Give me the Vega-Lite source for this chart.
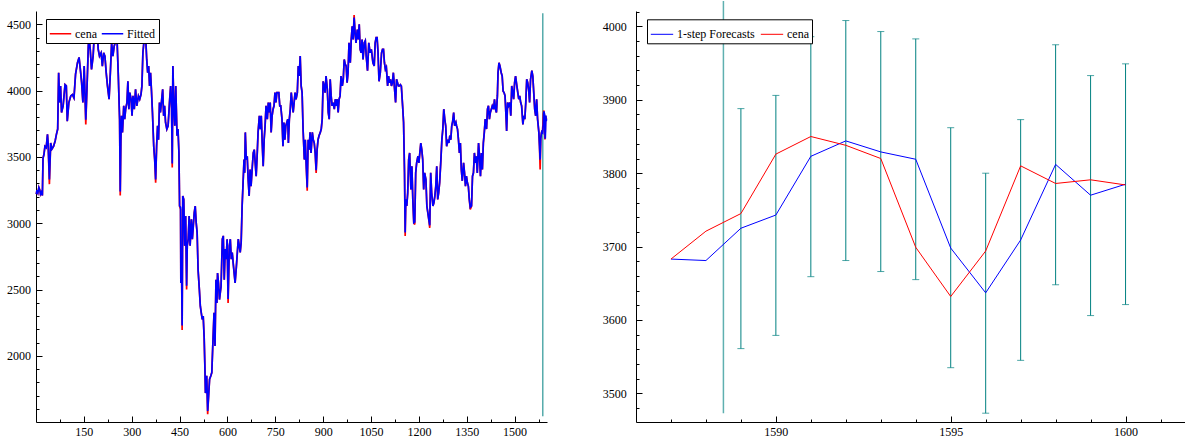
{
"$schema": "https://vega.github.io/schema/vega-lite/v6.json",
"background": "white",
"padding": {"left": 6, "top": 0, "right": 0, "bottom": 0},
"spacing": 52,
"config": {
  "view": {"stroke": null},
  "font": "Liberation Serif",
  "axis": {"domainColor": "black", "tickColor": "black", "labelColor": "black", "labelFont": "Liberation Serif", "labelFontSize": 12, "grid": false, "title": null, "labelFlush": false, "labelOverlap": false, "domainWidth": 1, "tickWidth": 1, "format": "d"}
},
"resolve": {"scale": {"x": "independent", "y": "independent", "color": "independent"}},
"datasets": {
"main": [
{"t":1,"c":3220,"f":3220},{"t":3,"c":3250,"f":3250},{"t":6,"c":3230,"f":3230},{"t":9,"c":3270,"f":3270},{"t":12,"c":3250,"f":3250},{"t":14,"c":3220,"f":3220},{"t":17,"c":3235,"f":3235},{"t":20,"c":3210,"f":3210},{"t":22,"c":3490,"f":3490},{"t":25,"c":3520,"f":3520},{"t":28,"c":3580,"f":3580},{"t":32,"c":3570,"f":3570},{"t":36,"c":3670,"f":3670},{"t":38,"c":3600,"f":3600},{"t":42,"c":3295,"f":3330},{"t":46,"c":3605,"f":3605},{"t":50,"c":3560,"f":3560},{"t":55,"c":3580,"f":3580},{"t":60,"c":3620,"f":3620},{"t":64,"c":3670,"f":3670},{"t":68,"c":3710,"f":3710},{"t":71,"c":4135,"f":4135},{"t":74,"c":3910,"f":3910},{"t":77,"c":4035,"f":4035},{"t":80,"c":3835,"f":3835},{"t":85,"c":3885,"f":3885},{"t":91,"c":4045,"f":4045},{"t":95,"c":4035,"f":4035},{"t":98,"c":3770,"f":3770},{"t":103,"c":3910,"f":3910},{"t":109,"c":3960,"f":3960},{"t":114,"c":3970,"f":3970},{"t":119,"c":3945,"f":3945},{"t":124,"c":4125,"f":4125},{"t":130,"c":4210,"f":4210},{"t":135,"c":4250,"f":4250},{"t":140,"c":4135,"f":4135},{"t":143,"c":4060,"f":4060},{"t":147,"c":3910,"f":3910},{"t":151,"c":4185,"f":4185},{"t":156,"c":3745,"f":3780},{"t":160,"c":4035,"f":4035},{"t":164,"c":4335,"f":4335},{"t":166,"c":4410,"f":4410},{"t":170,"c":4310,"f":4310},{"t":174,"c":4160,"f":4160},{"t":179,"c":4260,"f":4260},{"t":183,"c":4435,"f":4435},{"t":187,"c":4485,"f":4485},{"t":191,"c":4500,"f":4490},{"t":195,"c":4310,"f":4310},{"t":199,"c":4260,"f":4260},{"t":204,"c":4285,"f":4285},{"t":208,"c":4185,"f":4185},{"t":212,"c":4285,"f":4285},{"t":216,"c":4260,"f":4260},{"t":220,"c":4135,"f":4135},{"t":224,"c":4035,"f":4035},{"t":229,"c":3935,"f":3935},{"t":233,"c":4135,"f":4135},{"t":237,"c":4360,"f":4360},{"t":241,"c":4260,"f":4260},{"t":245,"c":4335,"f":4335},{"t":250,"c":4375,"f":4375},{"t":254,"c":4385,"f":4385},{"t":258,"c":4110,"f":4110},{"t":262,"c":3785,"f":3785},{"t":264,"c":3210,"f":3240},{"t":266,"c":3630,"f":3630},{"t":268,"c":3810,"f":3810},{"t":271,"c":3685,"f":3685},{"t":275,"c":3885,"f":3885},{"t":278,"c":3785,"f":3785},{"t":281,"c":3860,"f":3860},{"t":285,"c":3910,"f":3910},{"t":288,"c":4070,"f":4070},{"t":291,"c":3860,"f":3860},{"t":294,"c":3985,"f":3985},{"t":298,"c":3935,"f":3935},{"t":301,"c":3810,"f":3810},{"t":304,"c":3960,"f":3960},{"t":308,"c":3860,"f":3860},{"t":312,"c":4010,"f":4010},{"t":316,"c":3885,"f":3885},{"t":321,"c":3960,"f":3960},{"t":325,"c":3935,"f":3935},{"t":329,"c":3970,"f":3970},{"t":332,"c":4035,"f":4035},{"t":335,"c":4285,"f":4285},{"t":338,"c":4360,"f":4360},{"t":341,"c":4450,"f":4435},{"t":344,"c":4385,"f":4385},{"t":347,"c":4235,"f":4235},{"t":350,"c":4135,"f":4135},{"t":353,"c":4185,"f":4185},{"t":356,"c":4035,"f":4035},{"t":359,"c":4135,"f":4135},{"t":362,"c":3995,"f":3995},{"t":365,"c":3835,"f":3835},{"t":369,"c":3580,"f":3580},{"t":372,"c":3480,"f":3480},{"t":375,"c":3305,"f":3330},{"t":378,"c":3580,"f":3580},{"t":381,"c":3735,"f":3735},{"t":384,"c":3630,"f":3630},{"t":387,"c":3910,"f":3910},{"t":390,"c":3835,"f":3835},{"t":394,"c":3935,"f":3935},{"t":397,"c":4010,"f":4010},{"t":400,"c":3810,"f":3810},{"t":403,"c":3885,"f":3885},{"t":406,"c":3760,"f":3760},{"t":410,"c":3710,"f":3710},{"t":414,"c":3735,"f":3735},{"t":419,"c":3935,"f":3935},{"t":422,"c":4035,"f":4035},{"t":425,"c":3860,"f":3860},{"t":427,"c":3420,"f":3450},{"t":429,"c":4185,"f":4185},{"t":432,"c":3885,"f":3885},{"t":435,"c":3735,"f":3735},{"t":438,"c":4035,"f":4035},{"t":442,"c":3660,"f":3660},{"t":445,"c":3710,"f":3710},{"t":448,"c":3530,"f":3530},{"t":450,"c":3130,"f":3130},{"t":453,"c":3105,"f":3120},{"t":454,"c":2550,"f":2550},{"t":456,"c":2755,"f":2755},{"t":458,"c":2195,"f":2230},{"t":460,"c":3205,"f":3205},{"t":463,"c":3180,"f":3180},{"t":466,"c":2830,"f":2830},{"t":469,"c":3055,"f":3055},{"t":472,"c":2500,"f":2530},{"t":474,"c":2830,"f":2830},{"t":477,"c":2880,"f":2880},{"t":480,"c":3055,"f":3055},{"t":483,"c":2830,"f":2830},{"t":487,"c":3030,"f":3030},{"t":490,"c":2880,"f":2880},{"t":493,"c":2980,"f":2980},{"t":496,"c":3080,"f":3080},{"t":499,"c":3130,"f":3130},{"t":502,"c":3005,"f":3005},{"t":505,"c":2930,"f":2930},{"t":508,"c":2650,"f":2650},{"t":512,"c":2500,"f":2500},{"t":515,"c":2375,"f":2375},{"t":518,"c":2325,"f":2325},{"t":521,"c":2275,"f":2275},{"t":524,"c":2300,"f":2300},{"t":527,"c":2140,"f":2140},{"t":529,"c":1950,"f":1950},{"t":531,"c":1720,"f":1720},{"t":535,"c":1850,"f":1850},{"t":538,"c":1560,"f":1585},{"t":541,"c":1700,"f":1700},{"t":544,"c":1825,"f":1825},{"t":548,"c":1850,"f":1850},{"t":551,"c":1875,"f":1875},{"t":554,"c":2075,"f":2075},{"t":558,"c":2325,"f":2325},{"t":561,"c":2075,"f":2075},{"t":564,"c":2575,"f":2575},{"t":567,"c":2400,"f":2400},{"t":569,"c":2625,"f":2625},{"t":572,"c":2550,"f":2550},{"t":575,"c":2425,"f":2425},{"t":580,"c":2525,"f":2525},{"t":584,"c":2880,"f":2880},{"t":587,"c":2905,"f":2905},{"t":590,"c":2575,"f":2575},{"t":593,"c":2805,"f":2805},{"t":596,"c":2730,"f":2730},{"t":599,"c":2880,"f":2880},{"t":602,"c":2400,"f":2430},{"t":606,"c":2830,"f":2830},{"t":609,"c":2880,"f":2880},{"t":612,"c":2730,"f":2730},{"t":615,"c":2780,"f":2780},{"t":618,"c":2700,"f":2700},{"t":621,"c":2625,"f":2625},{"t":624,"c":2550,"f":2550},{"t":628,"c":2675,"f":2675},{"t":631,"c":2780,"f":2780},{"t":634,"c":2880,"f":2880},{"t":637,"c":2830,"f":2830},{"t":640,"c":2780,"f":2780},{"t":643,"c":2855,"f":2855},{"t":646,"c":3130,"f":3130},{"t":649,"c":3305,"f":3305},{"t":652,"c":3480,"f":3480},{"t":654,"c":3380,"f":3380},{"t":656,"c":3685,"f":3685},{"t":659,"c":3480,"f":3480},{"t":662,"c":3505,"f":3505},{"t":665,"c":3330,"f":3330},{"t":668,"c":3205,"f":3205},{"t":671,"c":3405,"f":3405},{"t":674,"c":3280,"f":3280},{"t":678,"c":3430,"f":3430},{"t":681,"c":3530,"f":3530},{"t":684,"c":3555,"f":3555},{"t":687,"c":3455,"f":3455},{"t":690,"c":3355,"f":3355},{"t":693,"c":3505,"f":3505},{"t":696,"c":3685,"f":3685},{"t":700,"c":3810,"f":3810},{"t":703,"c":3710,"f":3710},{"t":706,"c":3810,"f":3810},{"t":709,"c":3605,"f":3605},{"t":712,"c":3430,"f":3430},{"t":715,"c":3630,"f":3630},{"t":718,"c":3735,"f":3735},{"t":721,"c":3885,"f":3885},{"t":725,"c":3785,"f":3785},{"t":728,"c":3910,"f":3910},{"t":731,"c":3835,"f":3835},{"t":734,"c":3910,"f":3910},{"t":737,"c":3685,"f":3685},{"t":740,"c":3810,"f":3810},{"t":743,"c":3860,"f":3860},{"t":746,"c":3885,"f":3885},{"t":749,"c":3985,"f":3985},{"t":752,"c":3910,"f":3910},{"t":755,"c":3985,"f":3985},{"t":758,"c":3985,"f":3985},{"t":761,"c":3985,"f":3985},{"t":764,"c":3885,"f":3885},{"t":767,"c":3885,"f":3885},{"t":771,"c":3785,"f":3785},{"t":774,"c":3580,"f":3580},{"t":777,"c":3760,"f":3760},{"t":780,"c":3630,"f":3630},{"t":783,"c":3735,"f":3735},{"t":786,"c":3760,"f":3760},{"t":789,"c":3785,"f":3785},{"t":791,"c":3605,"f":3605},{"t":794,"c":3785,"f":3785},{"t":797,"c":3860,"f":3860},{"t":800,"c":3985,"f":3985},{"t":803,"c":3910,"f":3910},{"t":806,"c":3835,"f":3835},{"t":809,"c":3910,"f":3910},{"t":812,"c":3985,"f":3985},{"t":815,"c":3935,"f":3935},{"t":819,"c":3985,"f":3985},{"t":822,"c":4185,"f":4185},{"t":825,"c":4110,"f":4110},{"t":828,"c":4260,"f":4260},{"t":831,"c":4035,"f":4035},{"t":834,"c":3985,"f":3985},{"t":837,"c":3710,"f":3710},{"t":841,"c":3480,"f":3480},{"t":844,"c":3630,"f":3630},{"t":847,"c":3430,"f":3430},{"t":850,"c":3245,"f":3270},{"t":853,"c":3630,"f":3630},{"t":856,"c":3555,"f":3555},{"t":859,"c":3685,"f":3685},{"t":862,"c":3530,"f":3530},{"t":866,"c":3685,"f":3685},{"t":869,"c":3630,"f":3630},{"t":872,"c":3605,"f":3605},{"t":875,"c":3530,"f":3530},{"t":878,"c":3380,"f":3400},{"t":881,"c":3555,"f":3555},{"t":884,"c":3630,"f":3630},{"t":887,"c":3660,"f":3660},{"t":891,"c":3685,"f":3685},{"t":894,"c":3710,"f":3710},{"t":897,"c":3785,"f":3785},{"t":900,"c":4070,"f":4070},{"t":903,"c":4035,"f":4035},{"t":906,"c":3985,"f":3985},{"t":909,"c":4110,"f":4110},{"t":913,"c":4010,"f":4010},{"t":916,"c":3835,"f":3835},{"t":919,"c":3785,"f":3785},{"t":922,"c":4085,"f":4085},{"t":925,"c":3960,"f":3960},{"t":928,"c":3885,"f":3885},{"t":931,"c":3910,"f":3910},{"t":935,"c":3860,"f":3860},{"t":938,"c":3935,"f":3935},{"t":941,"c":3885,"f":3885},{"t":944,"c":3935,"f":3935},{"t":947,"c":3835,"f":3835},{"t":950,"c":3935,"f":3935},{"t":953,"c":3960,"f":3960},{"t":956,"c":4110,"f":4110},{"t":960,"c":4035,"f":4035},{"t":963,"c":4085,"f":4085},{"t":966,"c":4235,"f":4235},{"t":969,"c":4200,"f":4200},{"t":972,"c":4185,"f":4185},{"t":975,"c":4060,"f":4060},{"t":978,"c":4135,"f":4135},{"t":981,"c":4360,"f":4360},{"t":985,"c":4210,"f":4210},{"t":988,"c":4385,"f":4385},{"t":991,"c":4485,"f":4485},{"t":994,"c":4385,"f":4385},{"t":997,"c":4570,"f":4550},{"t":1000,"c":4435,"f":4435},{"t":1003,"c":4360,"f":4360},{"t":1007,"c":4460,"f":4460},{"t":1010,"c":4385,"f":4385},{"t":1013,"c":4500,"f":4500},{"t":1016,"c":4310,"f":4310},{"t":1019,"c":4285,"f":4285},{"t":1022,"c":4385,"f":4385},{"t":1025,"c":4235,"f":4235},{"t":1029,"c":4360,"f":4360},{"t":1032,"c":4375,"f":4375},{"t":1035,"c":4260,"f":4260},{"t":1039,"c":4150,"f":4150},{"t":1043,"c":4360,"f":4360},{"t":1047,"c":4285,"f":4285},{"t":1051,"c":4310,"f":4310},{"t":1056,"c":4210,"f":4210},{"t":1060,"c":4185,"f":4185},{"t":1063,"c":4360,"f":4360},{"t":1066,"c":4400,"f":4400},{"t":1069,"c":4400,"f":4400},{"t":1072,"c":4285,"f":4285},{"t":1075,"c":4070,"f":4070},{"t":1079,"c":4135,"f":4135},{"t":1083,"c":4285,"f":4285},{"t":1086,"c":4310,"f":4310},{"t":1089,"c":4310,"f":4310},{"t":1092,"c":4210,"f":4210},{"t":1095,"c":4160,"f":4160},{"t":1098,"c":4175,"f":4175},{"t":1102,"c":4035,"f":4035},{"t":1105,"c":4110,"f":4110},{"t":1108,"c":4060,"f":4060},{"t":1111,"c":4085,"f":4085},{"t":1114,"c":4035,"f":4035},{"t":1117,"c":4060,"f":4060},{"t":1120,"c":4135,"f":4135},{"t":1123,"c":4035,"f":4035},{"t":1127,"c":3910,"f":3910},{"t":1130,"c":4085,"f":4085},{"t":1133,"c":4060,"f":4060},{"t":1136,"c":4035,"f":4035},{"t":1139,"c":4035,"f":4035},{"t":1142,"c":4045,"f":4045},{"t":1145,"c":4035,"f":4035},{"t":1149,"c":3885,"f":3885},{"t":1152,"c":3760,"f":3760},{"t":1155,"c":3380,"f":3380},{"t":1157,"c":2905,"f":2930},{"t":1159,"c":3180,"f":3180},{"t":1162,"c":3130,"f":3130},{"t":1165,"c":3230,"f":3230},{"t":1168,"c":3480,"f":3480},{"t":1171,"c":3530,"f":3530},{"t":1175,"c":3255,"f":3255},{"t":1178,"c":3430,"f":3430},{"t":1181,"c":3180,"f":3180},{"t":1184,"c":3005,"f":3005},{"t":1187,"c":2990,"f":3010},{"t":1190,"c":3380,"f":3380},{"t":1193,"c":3455,"f":3455},{"t":1197,"c":3505,"f":3505},{"t":1200,"c":3455,"f":3455},{"t":1203,"c":3530,"f":3530},{"t":1206,"c":3605,"f":3605},{"t":1209,"c":3555,"f":3555},{"t":1212,"c":3480,"f":3480},{"t":1215,"c":3255,"f":3255},{"t":1218,"c":3380,"f":3380},{"t":1222,"c":3330,"f":3330},{"t":1225,"c":3130,"f":3130},{"t":1228,"c":3080,"f":3080},{"t":1231,"c":3030,"f":3030},{"t":1234,"c":2965,"f":2985},{"t":1237,"c":3380,"f":3380},{"t":1240,"c":3230,"f":3230},{"t":1244,"c":3130,"f":3130},{"t":1247,"c":3155,"f":3155},{"t":1250,"c":3205,"f":3205},{"t":1253,"c":3280,"f":3280},{"t":1256,"c":3430,"f":3430},{"t":1259,"c":3180,"f":3180},{"t":1262,"c":3230,"f":3230},{"t":1265,"c":3305,"f":3305},{"t":1269,"c":3480,"f":3480},{"t":1272,"c":3630,"f":3630},{"t":1275,"c":3710,"f":3710},{"t":1278,"c":3860,"f":3860},{"t":1281,"c":3785,"f":3785},{"t":1284,"c":3735,"f":3735},{"t":1287,"c":3580,"f":3580},{"t":1291,"c":3630,"f":3630},{"t":1294,"c":3605,"f":3605},{"t":1297,"c":3660,"f":3660},{"t":1300,"c":3630,"f":3630},{"t":1303,"c":3735,"f":3735},{"t":1306,"c":3770,"f":3770},{"t":1309,"c":3835,"f":3835},{"t":1312,"c":3735,"f":3735},{"t":1316,"c":3760,"f":3760},{"t":1318,"c":3735,"f":3735},{"t":1321,"c":3710,"f":3710},{"t":1324,"c":3630,"f":3630},{"t":1327,"c":3530,"f":3530},{"t":1330,"c":3605,"f":3605},{"t":1333,"c":3405,"f":3405},{"t":1336,"c":3320,"f":3320},{"t":1340,"c":3455,"f":3455},{"t":1343,"c":3380,"f":3380},{"t":1346,"c":3280,"f":3280},{"t":1349,"c":3355,"f":3355},{"t":1352,"c":3305,"f":3305},{"t":1355,"c":3280,"f":3280},{"t":1358,"c":3180,"f":3180},{"t":1361,"c":3105,"f":3120},{"t":1365,"c":3130,"f":3130},{"t":1368,"c":3355,"f":3355},{"t":1371,"c":3380,"f":3380},{"t":1374,"c":3530,"f":3530},{"t":1377,"c":3455,"f":3455},{"t":1380,"c":3505,"f":3505},{"t":1383,"c":3380,"f":3380},{"t":1387,"c":3605,"f":3605},{"t":1390,"c":3505,"f":3505},{"t":1393,"c":3355,"f":3355},{"t":1396,"c":3530,"f":3530},{"t":1399,"c":3405,"f":3405},{"t":1402,"c":3605,"f":3605},{"t":1405,"c":3685,"f":3685},{"t":1408,"c":3785,"f":3785},{"t":1412,"c":3710,"f":3710},{"t":1415,"c":3860,"f":3860},{"t":1418,"c":3885,"f":3885},{"t":1421,"c":3785,"f":3785},{"t":1424,"c":3835,"f":3835},{"t":1427,"c":3860,"f":3860},{"t":1430,"c":3885,"f":3885},{"t":1434,"c":3860,"f":3860},{"t":1437,"c":3935,"f":3935},{"t":1440,"c":3860,"f":3860},{"t":1443,"c":3835,"f":3835},{"t":1446,"c":3960,"f":3960},{"t":1448,"c":4135,"f":4135},{"t":1451,"c":4210,"f":4210},{"t":1454,"c":4185,"f":4185},{"t":1458,"c":4135,"f":4135},{"t":1461,"c":4110,"f":4110},{"t":1464,"c":3995,"f":3995},{"t":1467,"c":3985,"f":3985},{"t":1470,"c":3960,"f":3960},{"t":1473,"c":3810,"f":3810},{"t":1475,"c":3695,"f":3695},{"t":1478,"c":3910,"f":3910},{"t":1481,"c":3885,"f":3885},{"t":1485,"c":3910,"f":3910},{"t":1488,"c":3810,"f":3810},{"t":1491,"c":4035,"f":4035},{"t":1494,"c":3985,"f":3985},{"t":1497,"c":3935,"f":3935},{"t":1500,"c":4060,"f":4060},{"t":1503,"c":4110,"f":4110},{"t":1507,"c":4035,"f":4035},{"t":1510,"c":3985,"f":3985},{"t":1513,"c":3935,"f":3935},{"t":1516,"c":3960,"f":3960},{"t":1519,"c":3910,"f":3910},{"t":1522,"c":3885,"f":3885},{"t":1526,"c":3745,"f":3745},{"t":1529,"c":3810,"f":3810},{"t":1532,"c":3785,"f":3785},{"t":1535,"c":3910,"f":3910},{"t":1538,"c":4085,"f":4085},{"t":1541,"c":4060,"f":4060},{"t":1544,"c":4010,"f":4010},{"t":1547,"c":3910,"f":3910},{"t":1550,"c":4085,"f":4085},{"t":1554,"c":4150,"f":4150},{"t":1557,"c":4110,"f":4110},{"t":1560,"c":3985,"f":3985},{"t":1563,"c":3860,"f":3860},{"t":1566,"c":3810,"f":3810},{"t":1569,"c":3935,"f":3935},{"t":1572,"c":3785,"f":3785},{"t":1576,"c":3685,"f":3685},{"t":1578,"c":3580,"f":3580},{"t":1580,"c":3405,"f":3480},{"t":1582,"c":3640,"f":3640},{"t":1584,"c":3680,"f":3680},{"t":1586,"c":3700,"f":3700},{"t":1587,"c":3683,"f":3683},{"t":1588,"c":3721,"f":3681},{"t":1589,"c":3745,"f":3725},{"t":1590,"c":3826,"f":3743},{"t":1591,"c":3850,"f":3823},{"t":1592,"c":3838,"f":3844},{"t":1593,"c":3820,"f":3829},{"t":1594,"c":3699,"f":3819},{"t":1595,"c":3632,"f":3698},{"t":1596,"c":3694,"f":3637},{"t":1597,"c":3810,"f":3709},{"t":1598,"c":3786,"f":3812},{"t":1599,"c":3791,"f":3770},{"t":1600,"c":3784,"f":3785}
],
"fc": [
{"t":1587,"c":3683,"f":3683},{"t":1588,"c":3721,"f":3681},{"t":1589,"c":3745,"f":3725},{"t":1590,"c":3826,"f":3743},{"t":1591,"c":3850,"f":3823},{"t":1592,"c":3838,"f":3844},{"t":1593,"c":3820,"f":3829},{"t":1594,"c":3699,"f":3819},{"t":1595,"c":3632,"f":3698},{"t":1596,"c":3694,"f":3637},{"t":1597,"c":3810,"f":3709},{"t":1598,"c":3786,"f":3812},{"t":1599,"c":3791,"f":3770},{"t":1600,"c":3784,"f":3785}
],
"bars": [
{"t":1589,"lo":3561,"hi":3888},{"t":1590,"lo":3579,"hi":3906},{"t":1591,"lo":3659,"hi":3986},{"t":1592,"lo":3681,"hi":4008},{"t":1593,"lo":3666,"hi":3993},{"t":1594,"lo":3655,"hi":3983},{"t":1595,"lo":3535,"hi":3862},{"t":1596,"lo":3473,"hi":3800},{"t":1597,"lo":3545,"hi":3873},{"t":1598,"lo":3648,"hi":3975},{"t":1599,"lo":3606,"hi":3933},{"t":1600,"lo":3621,"hi":3949}
],
"vl": [{"t":1588.5,"y1":1545,"y2":4583}],
"vr": [{"t":1588.5,"y1":3473,"y2":4034.6}]
},
"hconcat": [
{
  "width": 511, "height": 411,
  "resolve": {"axis": {"x": "independent", "y": "independent"}},
  "layer": [
    {"data": {"name": "vl"}, "mark": {"type": "rule", "color": "#008080", "strokeWidth": 1},
     "encoding": {
       "x": {"field": "t", "type": "quantitative", "scale": {"domain": [0, 1601.5], "nice": false, "zero": false},
             "axis": {"orient": "bottom", "values": [150,300,450,600,750,900,1050,1200,1350,1500], "tickSize": -6, "labelPadding": 10.5}},
       "y": {"field": "y1", "type": "quantitative", "scale": {"domain": [1502, 4600], "nice": false, "zero": false},
             "axis": {"orient": "left", "values": [2000,2500,3000,3500,4000,4500], "tickSize": -6, "labelPadding": 11.6}},
       "y2": {"field": "y2"}
     }},
    {"data": {"name": "main"}, "mark": {"type": "line", "strokeWidth": 1.7},
     "encoding": {
       "x": {"field": "t", "type": "quantitative",
             "axis": {"orient": "bottom", "values": [75,225,375,525,675,825,975,1125,1275,1425,1575], "tickSize": -3, "labels": false, "domain": false}},
       "y": {"field": "c", "type": "quantitative",
             "axis": {"orient": "left", "values": [1600,1700,1800,1900,2100,2200,2300,2400,2600,2700,2800,2900,3100,3200,3300,3400,3600,3700,3800,3900,4100,4200,4300,4400], "tickSize": -3, "labels": false, "domain": false}},
       "color": {"datum": "cena", "type": "nominal",
                 "scale": {"domain": ["cena", "Fitted"], "range": ["#ff0000", "#0000ff"]},
                 "legend": {"orient": "none", "legendX": 10, "legendY": 8, "direction": "horizontal", "columns": 2, "title": null,
                            "strokeColor": "black", "fillColor": "white", "padding": 3, "symbolType": "stroke", "symbolSize": 460,
                            "symbolStrokeWidth": 1.5, "labelFont": "Liberation Serif", "labelFontSize": 12, "labelColor": "black",
                            "labelOffset": 3, "columnPadding": 1, "cornerRadius": 0}}
     }},
    {"data": {"name": "main"}, "mark": {"type": "line", "strokeWidth": 1.7},
     "encoding": {
       "x": {"field": "t", "type": "quantitative", "axis": null},
       "y": {"field": "f", "type": "quantitative", "axis": null},
       "color": {"datum": "Fitted", "type": "nominal"}
     }}
  ]
},
{
  "width": 549, "height": 411,
  "resolve": {"axis": {"x": "independent", "y": "independent"}},
  "layer": [
    {"data": {"name": "bars"}, "mark": {"type": "rule", "color": "#008080", "strokeWidth": 1},
     "encoding": {
       "x": {"field": "t", "type": "quantitative", "scale": {"domain": [1586, 1601.7], "nice": false, "zero": false},
             "axis": {"orient": "bottom", "values": [1590, 1595, 1600], "tickSize": -6, "labelPadding": 10.5}},
       "y": {"field": "lo", "type": "quantitative", "scale": {"domain": [3461, 4021], "nice": false, "zero": false},
             "axis": {"orient": "left", "values": [3500,3600,3700,3800,3900,4000], "tickSize": -6, "labelPadding": 15.7}},
       "y2": {"field": "hi"}
     }},
    {"data": {"name": "bars"}, "mark": {"type": "tick", "color": "#008080", "orient": "horizontal", "size": 7, "thickness": 1},
     "encoding": {
       "x": {"field": "t", "type": "quantitative",
             "axis": {"orient": "bottom", "values": [1587,1588,1589,1591,1592,1593,1594,1596,1597,1598,1599,1601], "tickSize": -3, "labels": false, "domain": false}},
       "y": {"field": "lo", "type": "quantitative",
             "axis": {"orient": "left", "values": [3480,3520,3540,3560,3580,3620,3640,3660,3680,3720,3740,3760,3780,3820,3840,3860,3880,3920,3940,3960,3980,4020], "tickSize": -3, "labels": false, "domain": false}}
     }},
    {"data": {"name": "bars"}, "mark": {"type": "tick", "color": "#008080", "orient": "horizontal", "size": 7, "thickness": 1},
     "encoding": {
       "x": {"field": "t", "type": "quantitative", "axis": null},
       "y": {"field": "hi", "type": "quantitative", "axis": null}
     }},
    {"data": {"name": "vr"}, "mark": {"type": "rule", "color": "#5fb0b0", "strokeWidth": 1.5, "clip": false},
     "encoding": {
       "x": {"field": "t", "type": "quantitative", "axis": null},
       "y": {"field": "y1", "type": "quantitative", "axis": null},
       "y2": {"field": "y2"}
     }},
    {"data": {"name": "fc"}, "mark": {"type": "line", "strokeWidth": 1},
     "encoding": {
       "x": {"field": "t", "type": "quantitative", "axis": null},
       "y": {"field": "f", "type": "quantitative", "axis": null},
       "color": {"datum": "1-step Forecasts", "type": "nominal",
                 "scale": {"domain": ["1-step Forecasts", "cena"], "range": ["#0000ff", "#ff0000"]},
                 "legend": {"orient": "none", "legendX": 11, "legendY": 8.3, "direction": "horizontal", "columns": 2, "title": null,
                            "strokeColor": "black", "fillColor": "white", "padding": 3, "symbolType": "stroke", "symbolSize": 500,
                            "symbolStrokeWidth": 1, "labelFont": "Liberation Serif", "labelFontSize": 12, "labelColor": "black",
                            "labelOffset": 3, "columnPadding": 3, "cornerRadius": 0}}
     }},
    {"data": {"name": "fc"}, "mark": {"type": "line", "strokeWidth": 1},
     "encoding": {
       "x": {"field": "t", "type": "quantitative", "axis": null},
       "y": {"field": "c", "type": "quantitative", "axis": null},
       "color": {"datum": "cena", "type": "nominal"}
     }}
  ]
}
]
}
